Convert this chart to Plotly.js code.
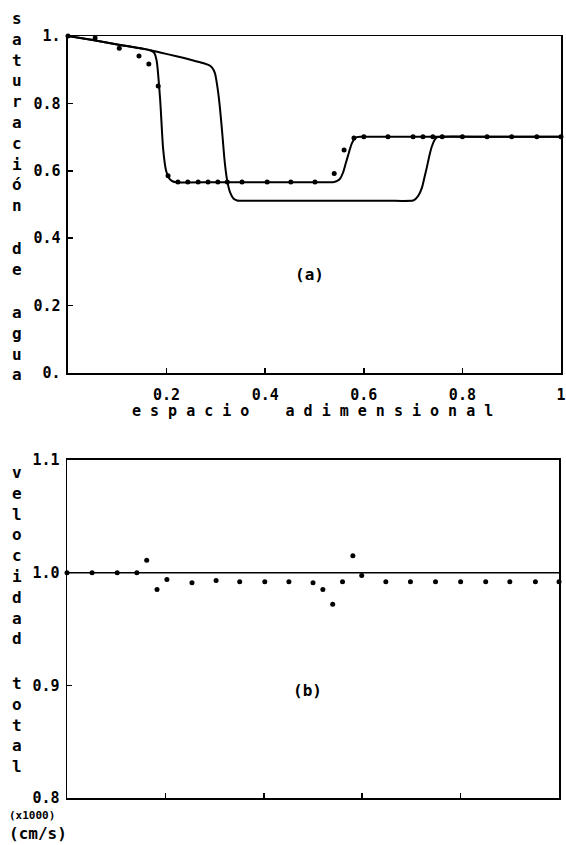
<!DOCTYPE html>
<html>
<head>
<meta charset="utf-8">
<script src="https://cdn.plot.ly/plotly-3.0.1.min.js"></script>
<style>html,body{margin:0;padding:0;background:#fff;}#chart{width:566px;height:845px;}</style>
</head>
<body>
<div id="chart"></div>
<script>
// ---- Panel (a): saturación de agua vs espacio adimensional ----
const curve1X = [0, 0.05, 0.10, 0.15, 0.168, 0.175, 0.180, 0.187, 0.193, 0.199, 0.205, 0.212, 0.220, 0.30, 0.40, 0.50, 0.540, 0.546, 0.552, 0.558, 0.563, 0.568, 0.572, 0.576, 0.581, 0.586, 0.595, 0.70, 0.85, 1.0];
const curve1Y = [1.0, 0.988, 0.975, 0.963, 0.957, 0.950, 0.925, 0.81, 0.665, 0.600, 0.578, 0.569, 0.566, 0.566, 0.566, 0.566, 0.567, 0.570, 0.577, 0.595, 0.620, 0.645, 0.665, 0.682, 0.694, 0.700, 0.701, 0.701, 0.701, 0.701];

const curve2X = [0, 0.05, 0.10, 0.166, 0.22, 0.268, 0.285, 0.293, 0.298, 0.303, 0.308, 0.313, 0.318, 0.323, 0.329, 0.336, 0.343, 0.36, 0.45, 0.55, 0.65, 0.700, 0.706, 0.712, 0.718, 0.723, 0.728, 0.733, 0.738, 0.743, 0.748, 0.756, 0.85, 1.0];
const curve2Y = [1.0, 0.988, 0.975, 0.958, 0.940, 0.922, 0.914, 0.905, 0.890, 0.850, 0.790, 0.710, 0.625, 0.570, 0.535, 0.517, 0.512, 0.511, 0.511, 0.511, 0.511, 0.512, 0.518, 0.530, 0.550, 0.580, 0.611, 0.645, 0.672, 0.690, 0.699, 0.701, 0.701, 0.701];

const ptsAX = [0, 0.055, 0.104, 0.144, 0.164, 0.183, 0.203, 0.223, 0.243, 0.264, 0.284, 0.304, 0.323, 0.353, 0.404, 0.452, 0.501, 0.540, 0.560, 0.580, 0.600, 0.649, 0.700, 0.720, 0.740, 0.759, 0.800, 0.850, 0.900, 0.951, 1.0];
const ptsAY = [1.0, 0.994, 0.964, 0.941, 0.917, 0.852, 0.585, 0.567, 0.567, 0.567, 0.567, 0.567, 0.567, 0.567, 0.567, 0.567, 0.567, 0.592, 0.662, 0.697, 0.701, 0.701, 0.701, 0.701, 0.701, 0.701, 0.701, 0.701, 0.701, 0.701, 0.701];

// ---- Panel (b): velocidad total ----
const refLineX = [0, 1];
const refLineY = [1.0, 1.0];
const ptsBX = [0, 0.051, 0.102, 0.142, 0.162, 0.183, 0.203, 0.254, 0.303, 0.351, 0.402, 0.451, 0.500, 0.520, 0.540, 0.560, 0.581, 0.599, 0.648, 0.698, 0.749, 0.800, 0.851, 0.900, 0.952, 1.0];
const ptsBY = [1.0, 1.0, 1.0, 1.0, 1.011, 0.985, 0.994, 0.991, 0.993, 0.992, 0.992, 0.992, 0.991, 0.985, 0.972, 0.992, 1.015, 0.9975, 0.992, 0.992, 0.992, 0.992, 0.992, 0.992, 0.992, 0.992];

// ---- Tick labels ----
const topXTicks = [0.2, 0.4, 0.6, 0.8, 1];
const topXLabels = ['0.2', '0.4', '0.6', '0.8', '1'];
const topYTicks = [0, 0.2, 0.4, 0.6, 0.8, 1];
const topYLabels = ['0.', '0.2', '0.4', '0.6', '0.8', '1.'];
const botXTicks = [0.2, 0.4, 0.6, 0.8];
const botYTicks = [0.8, 0.9, 1.0, 1.1];
const botYLabels = ['0.8', '0.9', '1.0', '1.1'];

const FONT = 'DejaVu Sans Mono';
const tickFont = {family: FONT, size: 15, color: '#000', weight: 'bold'};
const lineStyle = {color: '#000', width: 2};
const markerStyle = {color: '#000', size: 5};

const traces = [
  {x: curve1X, y: curve1Y, xaxis: 'x', yaxis: 'y', mode: 'lines', line: Object.assign({shape: 'spline', smoothing: 0.6}, lineStyle), hoverinfo: 'skip'},
  {x: curve2X, y: curve2Y, xaxis: 'x', yaxis: 'y', mode: 'lines', line: Object.assign({shape: 'spline', smoothing: 0.6}, lineStyle), hoverinfo: 'skip'},
  {x: ptsAX, y: ptsAY, xaxis: 'x', yaxis: 'y', mode: 'markers', marker: markerStyle, cliponaxis: false},
  {x: refLineX, y: refLineY, xaxis: 'x2', yaxis: 'y2', mode: 'lines', line: {color: '#000', width: 1.5}, hoverinfo: 'skip'},
  {x: ptsBX, y: ptsBY, xaxis: 'x2', yaxis: 'y2', mode: 'markers', marker: markerStyle, cliponaxis: false}
];

const axisBase = {
  showline: true, mirror: true, linecolor: '#000', linewidth: 1.5,
  ticks: 'inside', ticklen: 5, tickwidth: 1.5, tickcolor: '#000',
  showgrid: false, zeroline: false, tickfont: tickFont, fixedrange: true
};

function px2paperX(px) { return (px - 67) / 494; }
function px2paperY(py) { return (798 - py) / 762; }

function stacked(word) { return word.split('').join('<br>'); }
const letterFont = {family: FONT, size: 16, color: '#000', weight: 'bold'};

const annotations = [
  {text: stacked('saturación'), x: px2paperX(17), y: px2paperY(112)},
  {text: stacked('de'), x: px2paperX(17), y: px2paperY(258.5)},
  {text: stacked('agua'), x: px2paperX(17), y: px2paperY(343.5)},
  {text: stacked('velocidad'), x: px2paperX(17), y: px2paperY(555)},
  {text: stacked('total'), x: px2paperX(17), y: px2paperY(724.5)}
].map(a => Object.assign({xref: 'paper', yref: 'paper', showarrow: false, xanchor: 'center', yanchor: 'middle', font: letterFont, align: 'center'}, a));

annotations.push(
  {text: 'e s p a c i o\u00a0\u00a0\u00a0\u00a0a d i m e n s i o n a l', x: px2paperX(312), y: px2paperY(411), xref: 'paper', yref: 'paper', showarrow: false, xanchor: 'center', yanchor: 'middle', font: {family: FONT, size: 15, color: '#000', weight: 'bold'}},
  {text: '(a)', x: px2paperX(309), y: px2paperY(274), xref: 'paper', yref: 'paper', showarrow: false, xanchor: 'center', yanchor: 'middle', font: {family: FONT, size: 16, color: '#000', weight: 'bold'}},
  {text: '(b)', x: px2paperX(307), y: px2paperY(690), xref: 'paper', yref: 'paper', showarrow: false, xanchor: 'center', yanchor: 'middle', font: {family: FONT, size: 16, color: '#000', weight: 'bold'}},
  {text: '(x1000)', x: px2paperX(7), y: px2paperY(815), xref: 'paper', yref: 'paper', showarrow: false, xanchor: 'left', yanchor: 'middle', font: {family: FONT, size: 11, color: '#000', weight: 'bold'}},
  {text: '(cm/s)', x: px2paperX(7), y: px2paperY(833), xref: 'paper', yref: 'paper', showarrow: false, xanchor: 'left', yanchor: 'middle', font: {family: FONT, size: 16, color: '#000', weight: 'bold'}}
);

const layout = {
  width: 566, height: 845,
  margin: {l: 67, r: 5, t: 36, b: 47, pad: 0},
  paper_bgcolor: '#fff', plot_bgcolor: '#fff',
  showlegend: false,
  xaxis: Object.assign({}, axisBase, {domain: [0.002, 1], anchor: 'y', range: [0, 1], tickmode: 'array', tickvals: topXTicks, ticktext: topXLabels, ticklabelstandoff: 7}),
  yaxis: Object.assign({}, axisBase, {domain: [0.5577, 1], anchor: 'x', range: [0, 1], tickmode: 'array', tickvals: topYTicks, ticktext: topYLabels, ticklabelstandoff: 3}),
  xaxis2: Object.assign({}, axisBase, {domain: [0, 0.996], anchor: 'y2', range: [0, 1], tickmode: 'array', tickvals: botXTicks, showticklabels: false}),
  yaxis2: Object.assign({}, axisBase, {domain: [0, 0.4436], anchor: 'x2', range: [0.8, 1.1], tickmode: 'array', tickvals: botYTicks, ticktext: botYLabels, ticklabelstandoff: 3}),
  annotations: annotations
};

Plotly.newPlot('chart', traces, layout, {displayModeBar: false, staticPlot: true});
</script>
</body>
</html>
